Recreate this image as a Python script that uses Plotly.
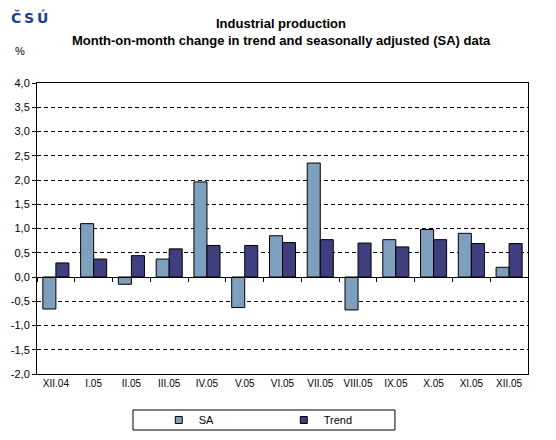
import plotly.graph_objects as go

months = ["XII.04", "I.05", "II.05", "III.05", "IV.05", "V.05", "VI.05",
          "VII.05", "VIII.05", "IX.05", "X.05", "XI.05", "XII.05"]
sa = [-0.66, 1.10, -0.15, 0.37, 1.96, -0.63, 0.85, 2.35, -0.68, 0.77, 0.98, 0.90, 0.20]
trend = [0.29, 0.37, 0.44, 0.58, 0.65, 0.65, 0.71, 0.77, 0.70, 0.62, 0.77, 0.69, 0.69]
y_ticks = [-2.0, -1.5, -1.0, -0.5, 0.0, 0.5, 1.0, 1.5, 2.0, 2.5, 3.0, 3.5, 4.0]
y_labels = ["-2,0", "-1,5", "-1,0", "-0,5", "0,0", "0,5", "1,0", "1,5",
            "2,0", "2,5", "3,0", "3,5", "4,0"]

FONT = "Liberation Sans, Arial, sans-serif"
SA_COLOR = "#7f9fbf"
TREND_COLOR = "#3f3f80"

fig = go.Figure()
fig.add_trace(go.Bar(x=months, y=sa, name="SA", showlegend=False,
                     marker=dict(color=SA_COLOR, line=dict(color="black", width=1))))
fig.add_trace(go.Bar(x=months, y=trend, name="Trend", showlegend=False,
                     marker=dict(color=TREND_COLOR, line=dict(color="black", width=1))))
# invisible helper so the category axis along zero gets drawn
fig.add_trace(go.Scatter(x=months, y=[0] * len(months), xaxis="x2", mode="markers",
                         marker=dict(opacity=0), showlegend=False, hoverinfo="skip"))
# small square legend keys, like the original
for name, color in (("SA", SA_COLOR), ("Trend", TREND_COLOR)):
    fig.add_trace(go.Scatter(x=[None], y=[None], name=name, mode="markers", xaxis="x2",
                             marker=dict(symbol="square", size=7, color=color,
                                         line=dict(color="black", width=1))))

# page body adds an 8px offset, margins account for it
fig.update_layout(
    width=556,
    height=440,
    margin=dict(l=29, r=36, t=75, b=74, autoexpand=False),
    paper_bgcolor="white",
    plot_bgcolor="white",
    font=dict(family=FONT, size=10, color="black"),
    barmode="group",
    bargap=0.31,
    bargroupgap=0,
    showlegend=True,
    legend=dict(
        orientation="h",
        x=0.248, xanchor="left",
        y=-0.158, yanchor="middle",
        bgcolor="rgba(0,0,0,0)",
        borderwidth=0,
        font=dict(size=11),
        entrywidth=80,
        itemwidth=30,
    ),
    xaxis=dict(
        type="category",
        categoryarray=months,
        showgrid=False,
        showline=True, mirror=True, linecolor="black", linewidth=1,
        ticks="",
        tickfont=dict(size=10),
        range=[-0.5, len(months) - 0.5],
    ),
    xaxis2=dict(
        type="category",
        overlaying="x",
        matches="x",
        anchor="free",
        position=1 / 3,
        showgrid=False,
        showline=True, linecolor="black", linewidth=1,
        ticks="outside", ticklen=4, tickcolor="black",
        tickson="boundaries",
        showticklabels=False,
    ),
    yaxis=dict(
        range=[-2, 4],
        tickvals=y_ticks,
        ticktext=y_labels,
        showline=True, mirror=True, linecolor="black", linewidth=1,
        ticks="outside", ticklen=4, tickcolor="black",
        showgrid=True, gridcolor="black", gridwidth=1, griddash="4px,3px",
        zeroline=False,
        tickfont=dict(size=11),
    ),
    shapes=[
        # legend frame
        dict(type="rect", xref="paper", yref="paper",
             x0=0.1955, x1=0.729, y0=-0.1924, y1=-0.1237,
             line=dict(color="black", width=1)),
    ],
    annotations=[
        dict(text="<b>Industrial production</b>", xref="paper", yref="paper",
             x=0.497, y=1.203, xanchor="center", yanchor="middle", showarrow=False,
             font=dict(size=13)),
        dict(text="<b>Month-on-month change in trend and seasonally adjusted (SA) data</b>",
             xref="paper", yref="paper", x=0.497, y=1.145, xanchor="center", yanchor="middle",
             showarrow=False, font=dict(size=13)),
        dict(text="%", xref="paper", yref="paper", x=-0.035, y=1.11,
             xanchor="center", yanchor="middle", showarrow=False, font=dict(size=11)),
        dict(text="<b>Č\u2009S\u2009Ú</b>", xref="paper", yref="paper", x=-0.057, y=1.19,
             xanchor="left", yanchor="bottom", showarrow=False,
             font=dict(size=14, color="#1f3d8f", family="DejaVu Sans, sans-serif")),
    ],
)

fig.write_html("out.html")
